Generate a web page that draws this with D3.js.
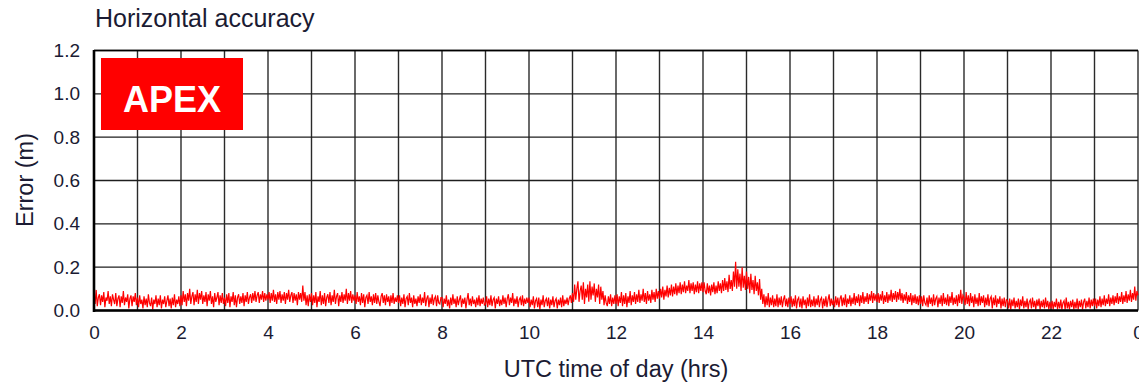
<!DOCTYPE html>
<html>
<head>
<meta charset="utf-8">
<script src="https://cdn.jsdelivr.net/npm/d3@7"></script>
<style>
  html, body { margin: 0; padding: 0; background: #fff; }
  svg { display: block; font-family: "Liberation Sans", Arial, Helvetica, sans-serif; }
</style>
</head>
<body>
<svg id="chart" width="1139" height="384"></svg>
<script>
// Horizontal position error (m) over one UTC day; one row per hour,
// samples spread evenly across the hour (1.5 min apart).
const errorByHour = [
  /* 00 */ [0.08,0.03,0.095,0.02,0.06,0.075,0.025,0.07,0.04,0.085,0.015,0.06,0.045,0.09,0.03,0.065,0.02,0.075,0.05,0.03,
            0.08,0.02,0.055,0.07,0.015,0.065,0.035,0.09,0.025,0.06,0.04,0.075,0.01,0.055,0.07,0.02,0.065,0.04,0.08,0.025],
  /* 01 */ [0.06,0.015,0.07,0.03,0.05,0.01,0.065,0.025,0.055,0.015,0.075,0.035,0.02,0.06,0.005,0.05,0.03,0.07,0.015,0.055,
            0.025,0.07,0.01,0.05,0.03,0.065,0.015,0.045,0.07,0.02,0.055,0.01,0.06,0.025,0.075,0.015,0.05,0.03,0.065,0.02],
  /* 02 */ [0.07,0.025,0.09,0.04,0.075,0.02,0.08,0.045,0.1,0.03,0.065,0.085,0.025,0.075,0.04,0.095,0.03,0.08,0.05,0.09,
            0.03,0.07,0.04,0.085,0.02,0.075,0.045,0.09,0.03,0.065,0.015,0.08,0.04,0.06,0.085,0.025,0.07,0.035,0.08,0.03],
  /* 03 */ [0.06,0.02,0.075,0.035,0.08,0.015,0.065,0.04,0.085,0.025,0.07,0.015,0.06,0.075,0.03,0.065,0.035,0.08,0.02,0.07,
            0.04,0.085,0.03,0.06,0.075,0.035,0.08,0.045,0.09,0.04,0.07,0.085,0.035,0.075,0.05,0.09,0.04,0.08,0.045,0.075],
  /* 04 */ [0.05,0.085,0.035,0.08,0.045,0.095,0.04,0.075,0.03,0.085,0.05,0.09,0.035,0.075,0.045,0.085,0.03,0.08,0.05,0.095,
            0.04,0.07,0.085,0.035,0.08,0.045,0.075,0.025,0.085,0.05,0.08,0.04,0.115,0.045,0.085,0.025,0.07,0.02,0.075,0.04],
  /* 05 */ [0.08,0.025,0.07,0.035,0.085,0.015,0.065,0.04,0.09,0.025,0.07,0.03,0.08,0.02,0.06,0.075,0.035,0.085,0.025,0.07,
            0.04,0.095,0.03,0.065,0.08,0.02,0.07,0.04,0.085,0.035,0.075,0.045,0.1,0.03,0.08,0.045,0.09,0.035,0.075,0.045],
  /* 06 */ [0.07,0.03,0.085,0.04,0.065,0.025,0.08,0.035,0.075,0.015,0.06,0.07,0.03,0.085,0.04,0.065,0.025,0.075,0.035,0.08,
            0.03,0.07,0.04,0.02,0.065,0.08,0.035,0.07,0.025,0.075,0.04,0.065,0.02,0.07,0.035,0.08,0.03,0.06,0.04,0.07],
  /* 07 */ [0.035,0.07,0.02,0.06,0.03,0.075,0.015,0.055,0.065,0.025,0.08,0.035,0.06,0.015,0.07,0.03,0.055,0.02,0.065,0.035,
            0.075,0.025,0.06,0.035,0.085,0.02,0.055,0.07,0.015,0.06,0.03,0.075,0.025,0.055,0.065,0.02,0.07,0.035,0.03,0.06],
  /* 08 */ [0.06,0.015,0.055,0.03,0.07,0.02,0.05,0.01,0.06,0.025,0.075,0.03,0.055,0.015,0.065,0.025,0.05,0.07,0.015,0.055,
            0.03,0.06,0.01,0.05,0.08,0.025,0.055,0.02,0.065,0.03,0.05,0.015,0.06,0.025,0.07,0.02,0.055,0.03,0.06,0.025],
  /* 09 */ [0.03,0.065,0.015,0.055,0.025,0.07,0.02,0.05,0.06,0.01,0.055,0.03,0.065,0.02,0.05,0.025,0.07,0.03,0.06,0.015,
            0.055,0.075,0.025,0.06,0.035,0.08,0.02,0.055,0.03,0.065,0.015,0.05,0.06,0.025,0.07,0.02,0.055,0.03,0.06,0.035],
  /* 10 */ [0.06,0.015,0.05,0.025,0.065,0.01,0.045,0.055,0.015,0.06,0.005,0.05,0.025,0.07,0.015,0.045,0.055,0.02,0.06,0.01,
            0.05,0.025,0.065,0.015,0.045,0.055,0.01,0.05,0.025,0.06,0.015,0.07,0.02,0.05,0.03,0.06,0.025,0.055,0.07,0.035],
  /* 11 */ [0.08,0.04,0.12,0.05,0.1,0.135,0.04,0.09,0.115,0.05,0.13,0.03,0.1,0.06,0.12,0.04,0.135,0.05,0.11,0.07,
            0.125,0.04,0.1,0.06,0.12,0.03,0.11,0.05,0.09,0.025,0.07,0.035,0.02,0.065,0.03,0.075,0.02,0.06,0.03,0.07],
  /* 12 */ [0.03,0.075,0.02,0.065,0.035,0.085,0.02,0.07,0.03,0.08,0.015,0.065,0.035,0.09,0.025,0.07,0.04,0.085,0.03,0.075,
            0.04,0.095,0.035,0.075,0.045,0.1,0.04,0.08,0.03,0.09,0.045,0.075,0.035,0.095,0.05,0.085,0.04,0.1,0.055,0.09],
  /* 13 */ [0.055,0.1,0.06,0.11,0.05,0.095,0.065,0.115,0.06,0.105,0.07,0.12,0.065,0.11,0.075,0.125,0.07,0.115,0.08,0.13,
            0.075,0.12,0.085,0.135,0.08,0.115,0.09,0.14,0.08,0.125,0.09,0.13,0.075,0.12,0.085,0.135,0.08,0.125,0.09,0.13],
  /* 14 */ [0.085,0.13,0.09,0.075,0.125,0.08,0.115,0.07,0.12,0.085,0.13,0.075,0.115,0.08,0.135,0.09,0.125,0.08,0.14,0.09,
            0.15,0.095,0.135,0.085,0.165,0.1,0.14,0.09,0.18,0.11,0.225,0.1,0.19,0.11,0.17,0.09,0.2,0.105,0.16,0.095],
  /* 15 */ [0.18,0.1,0.155,0.08,0.17,0.095,0.14,0.075,0.16,0.09,0.13,0.07,0.145,0.05,0.1,0.03,0.075,0.015,0.065,0.025,
            0.08,0.015,0.06,0.025,0.07,0.015,0.055,0.02,0.075,0.015,0.06,0.025,0.065,0.015,0.05,0.07,0.02,0.055,0.015,0.06],
  /* 16 */ [0.03,0.065,0.015,0.055,0.02,0.07,0.01,0.05,0.06,0.015,0.055,0.01,0.065,0.025,0.05,0.01,0.06,0.02,0.075,0.015,
            0.05,0.02,0.065,0.015,0.055,0.025,0.07,0.015,0.05,0.06,0.01,0.055,0.02,0.065,0.015,0.05,0.075,0.02,0.055,0.025],
  /* 17 */ [0.05,0.015,0.065,0.025,0.06,0.015,0.055,0.07,0.02,0.06,0.025,0.075,0.015,0.055,0.03,0.07,0.02,0.06,0.03,0.08,
            0.025,0.065,0.035,0.075,0.02,0.07,0.035,0.085,0.03,0.065,0.04,0.08,0.03,0.075,0.045,0.09,0.035,0.08,0.045,0.075],
  /* 18 */ [0.04,0.08,0.035,0.075,0.045,0.09,0.03,0.07,0.04,0.085,0.035,0.075,0.045,0.095,0.04,0.08,0.05,0.09,0.04,0.085,
            0.05,0.1,0.045,0.08,0.035,0.075,0.045,0.085,0.03,0.07,0.04,0.08,0.025,0.07,0.035,0.075,0.03,0.065,0.025,0.07],
  /* 19 */ [0.03,0.065,0.02,0.07,0.035,0.025,0.06,0.015,0.07,0.03,0.06,0.02,0.075,0.025,0.055,0.065,0.015,0.06,0.03,0.07,
            0.02,0.08,0.03,0.06,0.025,0.075,0.02,0.065,0.035,0.085,0.025,0.06,0.03,0.07,0.02,0.075,0.035,0.095,0.03,0.07],
  /* 20 */ [0.06,0.025,0.085,0.03,0.07,0.02,0.08,0.035,0.065,0.015,0.075,0.03,0.06,0.02,0.08,0.025,0.065,0.035,0.07,0.015,
            0.06,0.025,0.075,0.02,0.055,0.065,0.01,0.06,0.025,0.07,0.015,0.055,0.03,0.065,0.01,0.055,0.02,0.06,0.015,0.05],
  /* 21 */ [0.045,0.01,0.055,0.005,0.05,0.02,0.06,0.01,0.045,0.015,0.055,0.005,0.05,0.02,0.065,0.01,0.045,0.015,0.055,0.005,
            0.04,0.05,0.01,0.06,0.015,0.045,0.005,0.05,0.02,0.055,0.005,0.045,0.015,0.05,0.01,0.06,0.015,0.045,0.005,0.04],
  /* 22 */ [0.01,0.045,0.005,0.04,0.015,0.055,0.005,0.04,0.01,0.05,0.005,0.035,0.045,0.005,0.06,0.01,0.04,0.005,0.045,0.015,
            0.05,0.005,0.04,0.01,0.055,0.005,0.045,0.015,0.05,0.005,0.04,0.055,0.01,0.045,0.015,0.06,0.01,0.05,0.02,0.055],
  /* 23 */ [0.02,0.055,0.01,0.05,0.02,0.065,0.015,0.055,0.025,0.07,0.02,0.055,0.03,0.075,0.02,0.06,0.03,0.07,0.025,0.065,
            0.035,0.08,0.03,0.065,0.04,0.085,0.03,0.07,0.04,0.09,0.035,0.075,0.045,0.095,0.04,0.08,0.05,0.11,0.045,0.09],
  /* 24 */ [0.07]
];

const xTicks = [0, 2, 4, 6, 8, 10, 12, 14, 16, 18, 20, 22, 24];
const yTicks = [0.0, 0.2, 0.4, 0.6, 0.8, 1.0, 1.2];
const hourGrid = d3.range(0, 25);

const titleText = "Horizontal accuracy";
const xTitleText = "UTC time of day (hrs)";
const yTitleText = "Error (m)";
const badgeText = "APEX";

const svg = d3.select("#chart");
const textColor = "#1b1b33";

const x = d3.scaleLinear().domain([0, 24]).range([94, 1138]);
const y = d3.scaleLinear().domain([0, 1.2]).range([310.5, 50.5]);

// grid
const grid = svg.append("g");
grid.selectAll("line.v").data(hourGrid).join("line")
  .attr("x1", d => x(d)).attr("x2", d => x(d))
  .attr("y1", y(0)).attr("y2", y(1.2))
  .attr("stroke", "#2a2a2a").attr("stroke-width", 1.4);
grid.selectAll("line.h").data(yTicks).join("line")
  .attr("x1", x(0)).attr("x2", x(24))
  .attr("y1", d => y(d)).attr("y2", d => y(d))
  .attr("stroke", "#1e1e1e").attr("stroke-width", 1.4);

// data line: each row's samples spread evenly across its hour
const pts = [];
errorByHour.forEach((row, h) => {
  row.forEach((v, j) => pts.push([h + j / row.length, v]));
});
svg.append("path")
  .datum(pts)
  .attr("fill", "none")
  .attr("stroke", "#ff0000")
  .attr("stroke-width", 1.2)
  .attr("d", d3.line().x(d => x(d[0])).y(d => y(d[1])));

// axes
const xAxis = svg.append("g")
  .attr("transform", `translate(0,${y(0)})`)
  .call(d3.axisBottom(x).tickValues(xTicks).tickSize(0).tickPadding(15)
    .tickFormat(d => String(d % 24)));
const yAxis = svg.append("g")
  .attr("transform", `translate(${x(0)},0)`)
  .call(d3.axisLeft(y).tickValues(yTicks).tickSize(0).tickPadding(14)
    .tickFormat(d3.format(".1f")));
[xAxis, yAxis].forEach(g => {
  g.select(".domain").remove();
  g.selectAll("text").attr("fill", textColor)
    .style("font-size", "19px").style("font-family", "'Liberation Sans', Arial, sans-serif");
});

// frame: heavier left and bottom, thin top
svg.append("line").attr("x1", x(0)).attr("x2", x(0)).attr("y1", y(1.2) - 0.5).attr("y2", y(0) + 1.5)
  .attr("stroke", "#000").attr("stroke-width", 2.6);
svg.append("line").attr("x1", x(0)).attr("x2", x(24)).attr("y1", y(0)).attr("y2", y(0))
  .attr("stroke", "#000").attr("stroke-width", 2.6);
svg.append("line").attr("x1", x(0)).attr("x2", x(24)).attr("y1", y(1.2)).attr("y2", y(1.2))
  .attr("stroke", "#000").attr("stroke-width", 1.6);

// titles
svg.append("text").attr("x", 95).attr("y", 27)
  .attr("fill", textColor).style("font-size", "25px").text(titleText);
svg.append("text").attr("x", (x(0) + x(24)) / 2).attr("y", 377)
  .attr("text-anchor", "middle").attr("fill", textColor).style("font-size", "23.5px").text(xTitleText);
svg.append("text").attr("transform", "translate(33,180) rotate(-90)")
  .attr("text-anchor", "middle").attr("fill", textColor).style("font-size", "23.5px").text(yTitleText);

// badge
svg.append("rect").attr("x", 101).attr("y", 58).attr("width", 142).attr("height", 72).attr("fill", "#ff0000");
svg.append("text").attr("x", 172).attr("y", 112).attr("text-anchor", "middle")
  .attr("fill", "#fff").style("font-size", "36px").style("font-weight", "bold").text(badgeText);
</script>
</body>
</html>
